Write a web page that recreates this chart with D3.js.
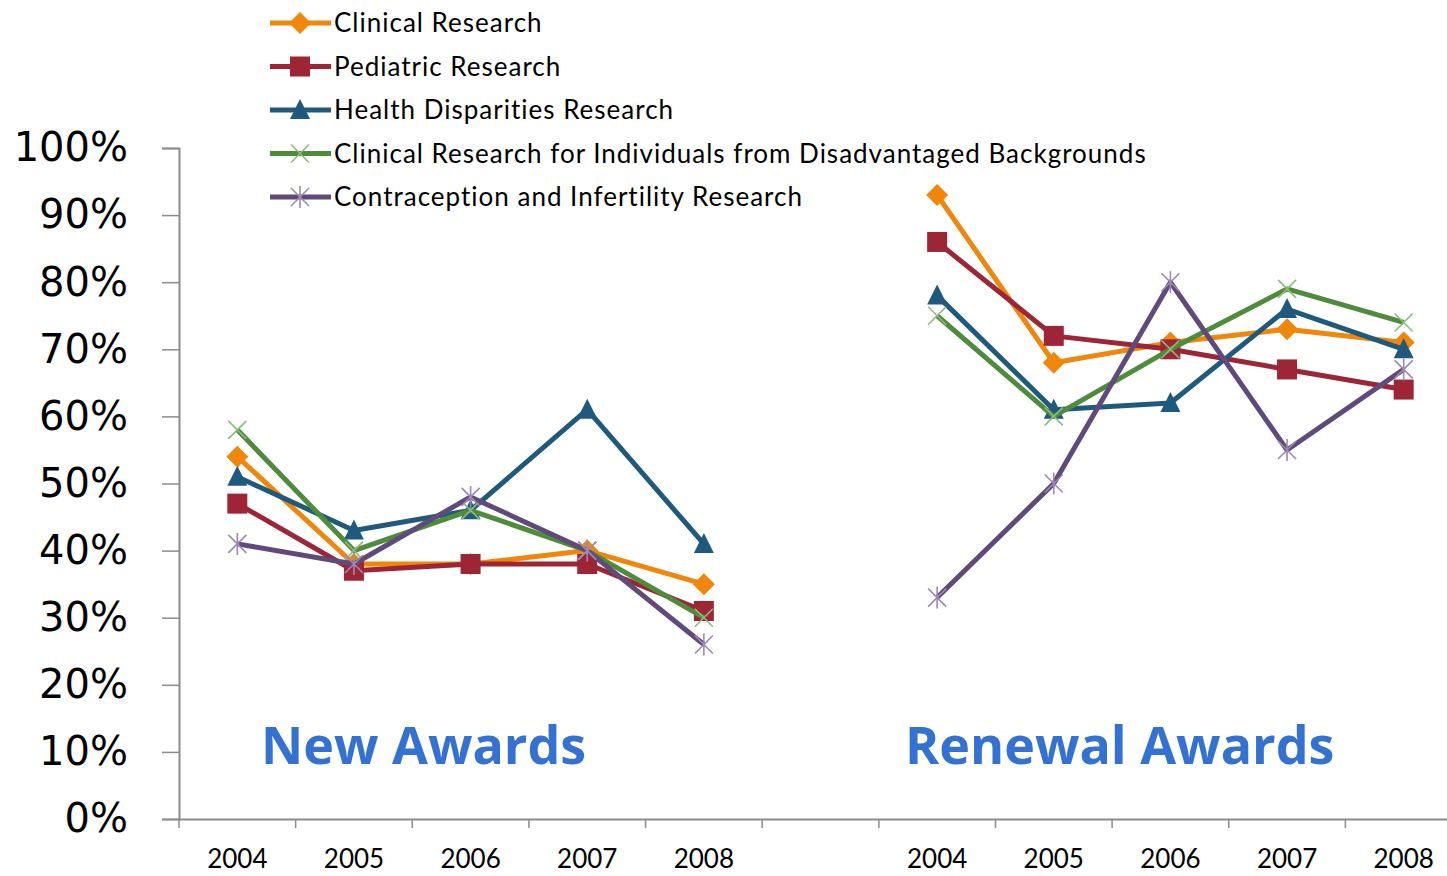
<!DOCTYPE html>
<html lang="en">
<head>
  <meta charset="UTF-8">
  <title>New and Renewal Awards</title>
  <script src="https://d3js.org/d3.v7.min.js"></script>
  <style>
    body { margin: 0; background: #fff; }
  </style>
</head>
<body>
  <div id="chart"></div>
  <script>
    // categories along the x axis: two groups of years with an empty slot between
    var years = ["2004", "2005", "2006", "2007", "2008"];
    var categories = ["N2004", "N2005", "N2006", "N2007", "N2008", "gap",
                      "R2004", "R2005", "R2006", "R2007", "R2008"];
    var yTicks = [0, 10, 20, 30, 40, 50, 60, 70, 80, 90, 100];

    var seriesNames = [
      "Clinical Research",
      "Pediatric Research",
      "Health Disparities Research",
      "Clinical Research for Individuals from Disadvantaged Backgrounds",
      "Contraception and Infertility Research"
    ];

    // percent values, 2004..2008
    var clinicalNew = [54, 38, 38, 40, 35];
    var clinicalRenewal = [93, 68, 71, 73, 71];
    var pediatricNew = [47, 37, 38, 38, 31];
    var pediatricRenewal = [86, 72, 70, 67, 64];
    var disparitiesNew = [51, 43, 46, 61, 41];
    var disparitiesRenewal = [78, 61, 62, 76, 70];
    var disadvantagedNew = [58, 40, 46, 40, 30];
    var disadvantagedRenewal = [75, 60, 70, 79, 74];
    var contraceptionNew = [41, 38, 48, 40, 26];
    var contraceptionRenewal = [33, 50, 80, 55, 67];

    var colors = ["#F0860A", "#9E2536", "#1F5A7E", "#4E8B3A", "#604A7B"];
    var markerColors = ["#F0860A", "#9E2536", "#1F5A7E", "#8DBA7E", "#9C8AB4"];
    var shapes = ["diamond", "square", "triangle", "x", "star"];

    var newData = [clinicalNew, pediatricNew, disparitiesNew, disadvantagedNew, contraceptionNew];
    var renewalData = [clinicalRenewal, pediatricRenewal, disparitiesRenewal, disadvantagedRenewal, contraceptionRenewal];

    var width = 1447, height = 876;
    var svg = d3.select("#chart").append("svg")
      .attr("width", width)
      .attr("height", height);

    var x = d3.scaleBand().domain(categories).range([179, 1462]).padding(0);
    var y = d3.scaleLinear().domain([0, 100]).range([819, 148]);

    // y axis
    var yAxis = d3.axisLeft(y).tickValues(yTicks).tickSize(17)
      .tickFormat(function (d) { return d + "%"; });
    var gy = svg.append("g").attr("transform", "translate(179,0)").call(yAxis);
    gy.select(".domain").attr("stroke", "#8c8c8c").attr("stroke-width", 2);
    gy.selectAll(".tick line").attr("stroke", "#8c8c8c").attr("stroke-width", 1.5);
    gy.selectAll(".tick text")
      .attr("x", -51)
      .style("font-family", "DejaVu Sans")
      .style("font-size", "40px")
      .attr("fill", "#000");

    // x axis
    var xAxis = d3.axisBottom(x).tickSize(0)
      .tickFormat(function (d) { return d === "gap" ? "" : d.slice(1); });
    var gx = svg.append("g").attr("transform", "translate(0,819)").call(xAxis);
    gx.select(".domain").attr("stroke", "#8c8c8c").attr("stroke-width", 2);
    gx.selectAll(".tick text")
      .attr("y", 31)
      .style("font-family", "Lato")
      .style("font-size", "26px")
      .attr("fill", "#000");
    // tick marks between categories
    gx.selectAll(".sep")
      .data(categories)
      .enter().append("line")
      .attr("class", "sep")
      .attr("x1", function (d) { return x(d); })
      .attr("x2", function (d) { return x(d); })
      .attr("y1", 0).attr("y2", 9)
      .attr("stroke", "#8c8c8c").attr("stroke-width", 1.5);

    var line = d3.line()
      .x(function (d) { return x(d.cat) + x.bandwidth() / 2; })
      .y(function (d) { return y(d.v); });

    function drawMarker(g, shape, cx, cy, fill, stroke) {
      if (shape === "diamond") {
        g.append("path").attr("d", "M" + cx + "," + (cy - 11) + "L" + (cx + 11) + "," + cy +
          "L" + cx + "," + (cy + 11) + "L" + (cx - 11) + "," + cy + "Z").attr("fill", fill);
      } else if (shape === "square") {
        g.append("rect").attr("x", cx - 10).attr("y", cy - 10)
          .attr("width", 20).attr("height", 20).attr("fill", fill);
      } else if (shape === "triangle") {
        g.append("path").attr("d", "M" + cx + "," + (cy - 11) + "L" + (cx + 10) + "," + (cy + 9) +
          "L" + (cx - 10) + "," + (cy + 9) + "Z").attr("fill", fill);
      } else if (shape === "x") {
        g.append("path").attr("d", "M" + (cx - 9) + "," + (cy - 9) + "L" + (cx + 9) + "," + (cy + 9) +
          "M" + (cx + 9) + "," + (cy - 9) + "L" + (cx - 9) + "," + (cy + 9))
          .attr("stroke", stroke).attr("stroke-width", 1.6).attr("fill", "none");
      } else {
        g.append("path").attr("d", "M" + (cx - 9) + "," + (cy - 9) + "L" + (cx + 9) + "," + (cy + 9) +
          "M" + (cx + 9) + "," + (cy - 9) + "L" + (cx - 9) + "," + (cy + 9) +
          "M" + cx + "," + (cy - 11) + "L" + cx + "," + (cy + 11))
          .attr("stroke", stroke).attr("stroke-width", 1.6).attr("fill", "none");
      }
    }

    var plot = svg.append("g");
    seriesNames.forEach(function (name, i) {
      var groups = [
        newData[i].map(function (v, j) { return { cat: "N" + years[j], v: v }; }),
        renewalData[i].map(function (v, j) { return { cat: "R" + years[j], v: v }; })
      ];
      var g = plot.append("g");
      groups.forEach(function (pts) {
        g.append("path")
          .datum(pts)
          .attr("d", line)
          .attr("fill", "none")
          .attr("stroke", colors[i])
          .attr("stroke-width", 5)
          .attr("stroke-linejoin", "round");
        pts.forEach(function (p) {
          drawMarker(g, shapes[i], x(p.cat) + x.bandwidth() / 2, y(p.v), colors[i], markerColors[i]);
        });
      });
    });

    // legend
    var legend = svg.append("g");
    seriesNames.forEach(function (name, i) {
      var ly = 23 + i * 43.5;
      var lg = legend.append("g");
      lg.append("line")
        .attr("x1", 270).attr("x2", 331).attr("y1", ly).attr("y2", ly)
        .attr("stroke", colors[i]).attr("stroke-width", 5);
      drawMarker(lg, shapes[i], 300, ly, colors[i], markerColors[i]);
      lg.append("text")
        .attr("x", 334).attr("y", ly + 9)
        .style("font-family", "Lato")
        .style("font-size", "26px")
        .style("letter-spacing", "1px")
        .attr("fill", "#000")
        .text(name);
    });

    // group titles
    svg.append("text")
      .attr("x", 261).attr("y", 764)
      .style("font-family", "Open Sans")
      .style("font-weight", "bold")
      .style("font-size", "52px")
      .attr("fill", "#3372D2")
      .text("New Awards");
    svg.append("text")
      .attr("x", 905).attr("y", 764)
      .style("font-family", "Open Sans")
      .style("font-weight", "bold")
      .style("font-size", "52px")
      .attr("fill", "#3372D2")
      .text("Renewal Awards");
  </script>
</body>
</html>
